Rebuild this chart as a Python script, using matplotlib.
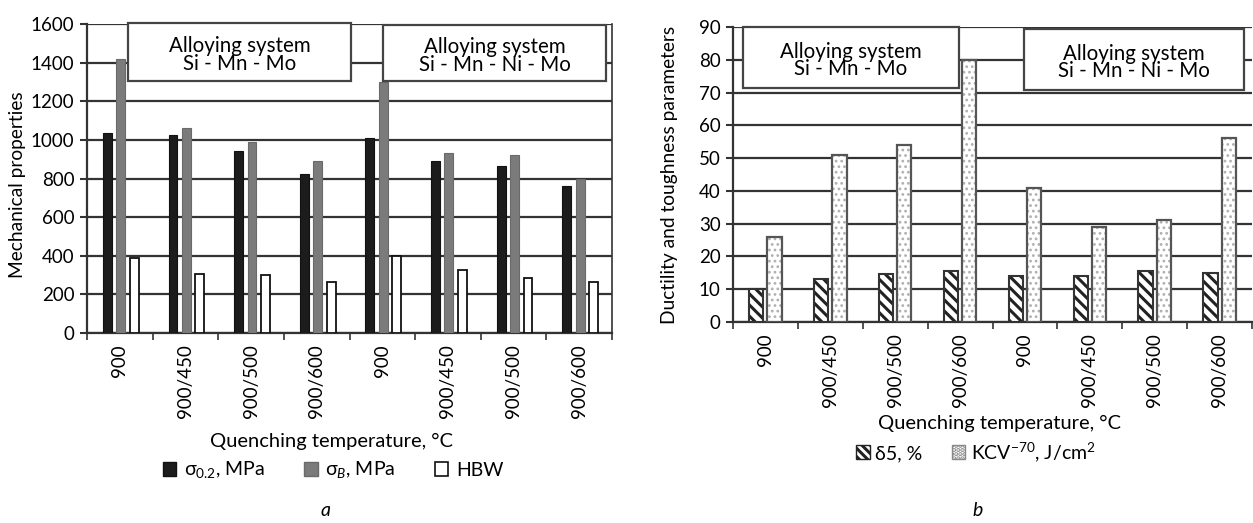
import numpy as np
import matplotlib
matplotlib.use('Agg')
from matplotlib import pyplot as plt
from matplotlib.patches import Patch, Rectangle

plt.rcParams['font.family'] = ['Lato', 'DejaVu Sans']
plt.rcParams['mathtext.fontset'] = 'custom'
plt.rcParams['mathtext.rm'] = 'Lato'
plt.rcParams['mathtext.it'] = 'Lato:italic'
plt.rcParams['hatch.linewidth'] = 2.2

# data
categories = ['900', '900/450', '900/500', '900/600', '900', '900/450', '900/500', '900/600']
sigma02 = [1035, 1025, 940, 825, 1010, 890, 865, 760]
sigmaB = [1420, 1060, 990, 890, 1300, 930, 920, 800]
hbw = [390, 305, 300, 265, 400, 325, 285, 265]
delta5 = [10, 13, 14.5, 15.5, 14, 14, 15.5, 15]
kcv = [26, 51, 54, 80, 41, 29, 31, 56]
box_texts = ['Alloying system\nSi - Mn - Mo', 'Alloying system\nSi - Mn - Ni - Mo']

W, H = 1253, 523
fig = plt.figure(figsize=(W/100, H/100), dpi=100)

def fx(px): return px / W
def fy(py): return 1 - py / H

ax1 = fig.add_axes([fx(87), fy(333), 525/W, 309/H])
ax2 = fig.add_axes([fx(733), fy(322), 519/W, 295/H])

x = np.arange(len(categories))
grid_c = '#333333'

# ---- panel a
ax1.bar(x - 0.19, sigma02, 0.135, color='#1c1c1c', edgecolor='#111111', lw=0.8, zorder=3)
ax1.bar(x + 0.015, sigmaB, 0.135, color='#7b7b7b', edgecolor='#6a6a6a', lw=0.8, zorder=3)
ax1.bar(x + 0.22, hbw, 0.135, color='white', edgecolor='#111111', lw=1.3, zorder=3)
ax1.set_ylim(0, 1600)
ax1.set_yticks(range(0, 1601, 200))

# ---- panel b
ax2.bar(x - 0.14, delta5, 0.22, color='white', edgecolor='#222222', hatch='\\\\\\', lw=0, zorder=3)
ax2.bar(x - 0.14, delta5, 0.22, fill=False, edgecolor='#333333', lw=1.5, zorder=4)
with plt.rc_context({'hatch.linewidth': 1.2}):
    ax2.bar(x + 0.14, kcv, 0.22, color='white', edgecolor='#b0b0b0', hatch='...', lw=0, zorder=3)
ax2.bar(x + 0.14, kcv, 0.22, fill=False, edgecolor='#555555', lw=1.6, zorder=4)
ax2.set_ylim(0, 90)
ax2.set_yticks(range(0, 91, 10))

for ax in (ax1, ax2):
    ax.set_xlim(-0.5, len(categories) - 0.5)
    ax.set_xticks(x)
    ax.set_xticklabels(categories, rotation=90, va='top')
    ax.set_xticks(np.arange(-0.5, len(categories)), minor=True)
    ax.tick_params(axis='x', which='major', length=0, pad=8, labelsize=13.5)
    ax.tick_params(axis='x', which='minor', length=5, width=1.2, color=grid_c)
    ax.tick_params(axis='y', length=5, width=1.5, color=grid_c, labelsize=13.5, pad=4)
    ax.yaxis.grid(True, color=grid_c, lw=1.6, zorder=0)
    ax.set_axisbelow(True)
    for s in ax.spines.values():
        s.set_color(grid_c)
        s.set_linewidth(1.6)
    ax.spines['top'].set_visible(False)

ax2.spines['right'].set_visible(False)
ax1.spines['right'].set_linewidth(1.2)

# alloy system boxes
boxes1 = [(0.078, 0.816, 0.425, 0.187), (0.564, 0.816, 0.425, 0.181)]
boxes2 = [(0.019, 0.793, 0.416, 0.207), (0.561, 0.787, 0.424, 0.206)]
for ax, bxs in ((ax1, boxes1), (ax2, boxes2)):
    for (bx, by, bw, bh), t in zip(bxs, box_texts):
        ax.add_patch(Rectangle((bx, by), bw, bh, transform=ax.transAxes, facecolor='white',
                               edgecolor='#444444', lw=1.6, zorder=5, clip_on=False))
        ax.text(bx + bw/2, by + bh/2 - 0.01, t, transform=ax.transAxes, ha='center', va='center',
                fontsize=14.8, linespacing=0.82, zorder=6)

# axis titles
fig.text(fx(18), fy(185), 'Mechanical properties', rotation=90, ha='center', va='center', fontsize=13.8)
fig.text(fx(670), fy(175), 'Ductility and toughness parameters', rotation=90, ha='center', va='center', fontsize=13.8)
fig.text(fx(332), fy(441), 'Quenching temperature, °C', ha='center', va='center', fontsize=14.5)
fig.text(fx(1000), fy(423), 'Quenching temperature, °C', ha='center', va='center', fontsize=14.5)

# legends
h1 = [Patch(facecolor='#1c1c1c', edgecolor='#111111'),
      Patch(facecolor='#7b7b7b', edgecolor='#6a6a6a'),
      Patch(facecolor='white', edgecolor='#111111', lw=1.2)]
l1 = ['σ$_{0.2}$, MPa', 'σ$_{\\it{B}}$, MPa', 'HBW']
fig.legend(h1, l1, loc='center', bbox_to_anchor=(fx(333), fy(470)), ncol=3, frameon=False,
           fontsize=14, handlelength=0.7, handleheight=0.7, handletextpad=0.4, columnspacing=2.0)

h2 = [Patch(facecolor='white', edgecolor='#222222', hatch='\\\\\\\\'),
      Patch(facecolor='white', edgecolor='#888888', hatch='....')]
l2 = ['δ5, %', 'KCV$^{-70}$, J/cm$^{2}$']
fig.legend(h2, l2, loc='center', bbox_to_anchor=(fx(976), fy(452)), ncol=2, frameon=False,
           fontsize=14, handlelength=0.7, handleheight=0.7, handletextpad=0.3, columnspacing=1.5)

fig.text(fx(326), fy(510), 'a', ha='center', va='center', fontsize=14, style='italic')
fig.text(fx(978), fy(510), 'b', ha='center', va='center', fontsize=14, style='italic')

plt.savefig('out.png', dpi=100)
